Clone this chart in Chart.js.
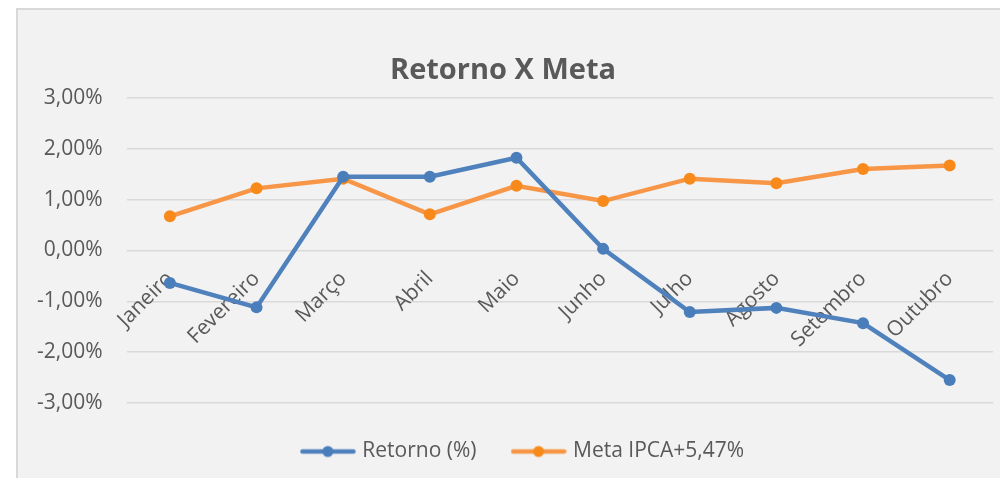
<!DOCTYPE html>
<html>
<head>
<meta charset="utf-8">
<script src="https://cdn.jsdelivr.net/npm/chart.js@4/dist/chart.umd.min.js"></script>
<style>
  html, body { margin: 0; padding: 0; background: #ffffff; width: 1000px; height: 478px; overflow: hidden; }
  #frame { position: absolute; left: 16px; top: 8px; width: 1010px; height: 490px; background: #F2F2F2; border: 2px solid #D9D9D9; box-sizing: border-box; }
  #c { position: absolute; left: 0; top: 0; }
</style>
</head>
<body>
<div id="frame"></div>
<canvas id="c" width="1000" height="478"></canvas>
<script>
const categories = ['Janeiro', 'Fevereiro', 'Março', 'Abril', 'Maio', 'Junho', 'Julho', 'Agosto', 'Setembro', 'Outubro'];
const retorno = [-0.64, -1.12, 1.45, 1.45, 1.82, 0.03, -1.21, -1.13, -1.43, -2.55];
const meta = [0.67, 1.22, 1.41, 0.71, 1.27, 0.97, 1.41, 1.32, 1.60, 1.67];
const seriesNames = ['Retorno (%)', 'Meta IPCA+5,47%'];
const yTicks = [-3, -2, -1, 0, 1, 2, 3];

const BLUE = '#4F81BD', BLUE_PT = '#4A7EBB';
const ORANGE = '#F79646', ORANGE_PT = '#F88A1C';
const TXT = '#595959';
const FONT = 'Open Sans';
const LEGEND_SHIFT = 21;

function legendSymbol(line, dot) {
  const cv = document.createElement('canvas');
  cv.width = 56; cv.height = 14;
  const g = cv.getContext('2d');
  g.strokeStyle = line; g.lineWidth = 4.5; g.lineCap = 'round';
  g.beginPath(); g.moveTo(2.5, 7); g.lineTo(53.5, 7); g.stroke();
  g.fillStyle = dot; g.beginPath(); g.arc(28, 7, 5.5, 0, Math.PI * 2); g.fill();
  return cv;
}
const symbols = [legendSymbol(BLUE, BLUE_PT), legendSymbol(ORANGE, ORANGE_PT)];

const legendOffset = {
  id: 'legendOffset',
  afterLayout(chart) {
    if (chart.legend) { chart.legend.left += LEGEND_SHIFT; chart.legend.right += LEGEND_SHIFT; }
  }
};

new Chart(document.getElementById('c'), {
  type: 'line',
  data: {
    labels: categories,
    datasets: [
      { label: seriesNames[0], data: retorno, borderColor: BLUE, backgroundColor: BLUE_PT,
        pointBackgroundColor: BLUE_PT, pointBorderColor: BLUE_PT, borderWidth: 4.5, pointRadius: 6, pointBorderWidth: 0, tension: 0 },
      { label: seriesNames[1], data: meta, borderColor: ORANGE, backgroundColor: ORANGE_PT,
        pointBackgroundColor: ORANGE_PT, pointBorderColor: ORANGE_PT, borderWidth: 4.5, pointRadius: 6, pointBorderWidth: 0, tension: 0 }
    ]
  },
  options: {
    responsive: false,
    animation: false,
    devicePixelRatio: 1,
    layout: { padding: { top: 53, left: 13, right: 7, bottom: 6 } },
    plugins: {
      tooltip: { enabled: false },
      title: {
        display: true, text: 'Retorno X Meta', color: TXT,
        font: { family: FONT, size: 29, weight: 'bold' },
        padding: { top: 0, bottom: 10 }
      },
      legend: {
        position: 'bottom',
        labels: {
          usePointStyle: true, pointStyleWidth: 48, padding: 38, color: TXT,
          font: { family: FONT, size: 21 },
          generateLabels: (chart) => chart.data.datasets.map((ds, i) => ({
            text: ds.label, pointStyle: symbols[i], fillStyle: ds.borderColor, strokeStyle: ds.borderColor,
            lineWidth: 0, hidden: false, datasetIndex: i, fontColor: TXT
          }))
        }
      }
    },
    scales: {
      x: {
        position: { y: 0 },
        offset: true,
        grid: { display: false, drawTicks: false },
        border: { display: false },
        ticks: { autoSkip: false, minRotation: 45, maxRotation: 45, padding: 16, color: TXT, font: { family: FONT, size: 21 } }
      },
      y: {
        min: -3, max: 3,
        afterBuildTicks: (s) => { s.ticks = yTicks.map(v => ({ value: v })); },
        grid: { color: '#D9D9D9', lineWidth: 1.5, drawTicks: false },
        border: { display: false },
        ticks: { padding: 24, color: TXT, font: { family: FONT, size: 21 },
          callback: (v) => v.toFixed(2).replace('.', ',') + '%' }
      }
    }
  },
  plugins: [legendOffset]
});
</script>
</body>
</html>
